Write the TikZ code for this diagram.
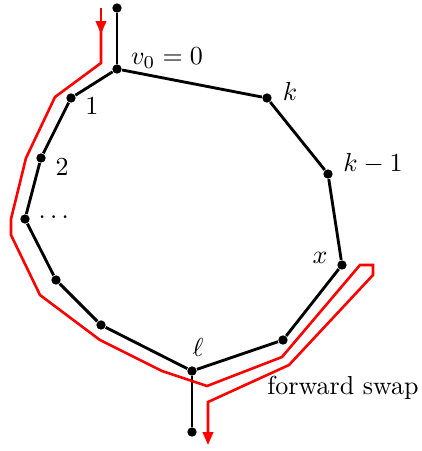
\documentclass[tikz,border=0pt]{standalone}
\usepackage{amsmath,amssymb}
\usepackage{xcolor}
\usetikzlibrary{arrows.meta}
\tikzset{
  vtx/.style={circle, fill=black, inner sep=0pt, minimum size=3.6pt},
  edge/.style={line width=1.1pt, draw=black},
  swappath/.style={line width=1pt, draw=red},
  swaparrow/.style={swappath, -{Triangle[length=5pt, width=4pt]}},
  lbl/.style={inner sep=0pt},
}

\begin{document}
\begin{tikzpicture}[x=0.3846pt, y=-0.3846pt]
  \useasboundingbox (0,0) rectangle (422,451);

  % vertices of the cycle
  \node[vtx] (top) at (117,8) {};
  \node[vtx] (v0) at (117,69) {};
  \node[vtx] (k) at (267,98) {};
  \node[vtx] (km1) at (328,174) {};
  \node[vtx] (x) at (342,265) {};
  \node[vtx] (p6) at (283,340) {};
  \node[vtx] (l) at (192,371) {};
  \node[vtx] (bot) at (192,432) {};
  \node[vtx] (p8) at (101,325) {};
  \node[vtx] (p9) at (56,280) {};
  \node[vtx] (dots) at (25,219) {};
  \node[vtx] (p2) at (41,158) {};
  \node[vtx] (p1) at (71,98) {};

  \draw[edge] (top) -- (v0);
  \draw[edge] (v0) -- (k) -- (km1) -- (x) -- (p6) -- (l) -- (p8) -- (p9)
    -- (dots) -- (p2) -- (p1) -- (v0);
  \draw[edge] (l) -- (bot);

  % labels
  \node[lbl] (v0lbl) at (167,58) {$v_0 = 0$};
  \node[lbl] (p1lbl) at (92,106) {$1$};
  \node[lbl] (p2lbl) at (62,167) {$2$};
  \node[lbl] (dotslbl) at (56,217) {$\dots$};
  \node[lbl] (klbl) at (290,91) {$k$};
  \node[lbl] (km1lbl) at (373,164) {$k-1$};
  \node[lbl] (xlbl) at (320,258) {$x$};
  \node[lbl] (llbl) at (198,347) {$\ell$};
  \node[lbl] (swaplbl) at (343,388) {forward swap};

  % the swap route
  \draw[swaparrow] (101,8) -- (101,34);
  \draw[swaparrow] (101,30) -- (101,63) -- (55,97) -- (26,158) -- (11,219)
    -- (11,235) -- (40,295) -- (100,340) -- (162,371) -- (207,386)
    -- (282,357) -- (360,265) -- (373,265) -- (373,275) -- (289,365)
    -- (208,402) -- (208,445);
\end{tikzpicture}
\end{document}
